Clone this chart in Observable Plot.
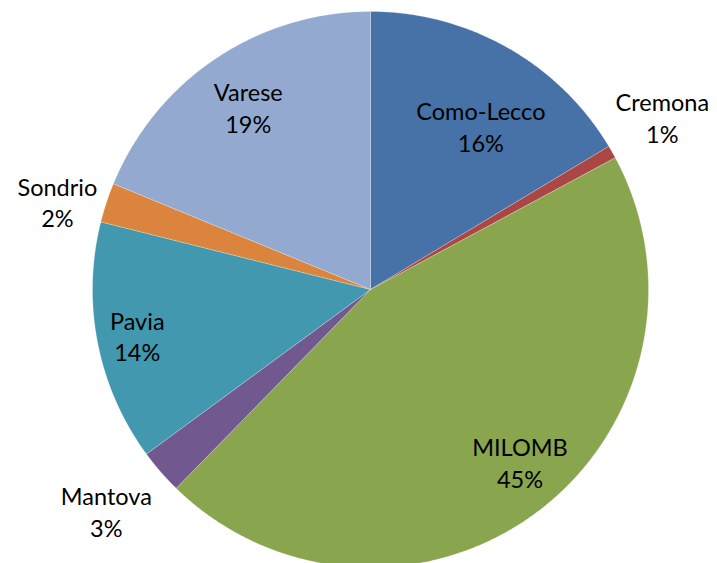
<!DOCTYPE html>
<html>
<head>
<meta charset="utf-8">
<script src="https://cdn.jsdelivr.net/npm/d3@7"></script>
<script src="https://cdn.jsdelivr.net/npm/@observablehq/plot@0.6"></script>
<style>
  html, body { margin: 0; padding: 0; background: #fff; }
  #chart { width: 717px; height: 563px; overflow: hidden; }
</style>
</head>
<body>
<div id="chart"></div>
<script>
// ---- data (clockwise from 12 o'clock) ----
const names  = ["Como-Lecco", "Cremona", "MILOMB", "Mantova", "Pavia", "Sondrio", "Varese"];
const values = [16.4, 0.75, 45.2, 2.6, 14.0, 2.3, 18.8];
const colors = ["#4672A7", "#AA4643", "#89A54E", "#71588F", "#4198AF", "#DB843D", "#93A9CF"];

// ---- layout ----
const W = 717, H = 563;
const cx = 370, cy = 289, R = 278;
// label placement (Excel "best fit"): radius fraction + angle nudge in degrees
const labelLayout = {
  "Como-Lecco": {r: 0.71, da: 4.5},
  "Cremona":    {r: 1.22, da: -1},
  "MILOMB":     {r: 0.82, da: -4},
  "Mantova":    {r: 1.24, da: 1},
  "Pavia":      {r: 0.855, da: 0},
  "Sondrio":    {r: 1.17, da: -2.5},
  "Varese":     {r: 0.79, da: 0}
};

const total = d3.sum(values);
const pie = d3.pie().sort(null).value(d => d.value);
const arcs = pie(names.map((name, i) => ({name, value: values[i]})));

// polygon points for each slice (angle measured clockwise from top)
const polys = [];
arcs.forEach(a => {
  const name = a.data.name;
  polys.push({name, x: 0, y: 0});
  const n = Math.max(2, Math.ceil((a.endAngle - a.startAngle) / (Math.PI / 360)));
  for (let k = 0; k <= n; k++) {
    const t = a.startAngle + (a.endAngle - a.startAngle) * k / n;
    polys.push({name, x: Math.sin(t), y: Math.cos(t)});
  }
  polys.push({name, x: 0, y: 0});
});

const labels = arcs.map(a => {
  const name = a.data.name;
  const L = labelLayout[name];
  const t = (a.startAngle + a.endAngle) / 2 + L.da * Math.PI / 180;
  return {
    name,
    x: L.r * Math.sin(t),
    y: L.r * Math.cos(t),
    text: `${name}\n${Math.round(a.data.value / total * 100)}%`
  };
});

const chart = Plot.plot({
  width: W,
  height: H,
  margin: 0,
  style: {background: "#fff", fontFamily: "Lato, 'Open Sans', sans-serif"},
  x: {domain: [-cx / R, (W - cx) / R], range: [0, W], axis: null},
  y: {domain: [-(H - cy) / R, cy / R], range: [H, 0], axis: null},
  color: {domain: names, range: colors},
  marks: [
    Plot.line(polys, {x: "x", y: "y", z: "name", fill: "name", stroke: "#ffffff", strokeWidth: 0.4, strokeOpacity: 0.6}),
    Plot.text(labels, {x: "x", y: "y", text: "text", fontSize: 23.5, lineHeight: 1.35, fill: "#000", textAnchor: "middle"})
  ]
});
document.getElementById("chart").appendChild(chart);
</script>
</body>
</html>
